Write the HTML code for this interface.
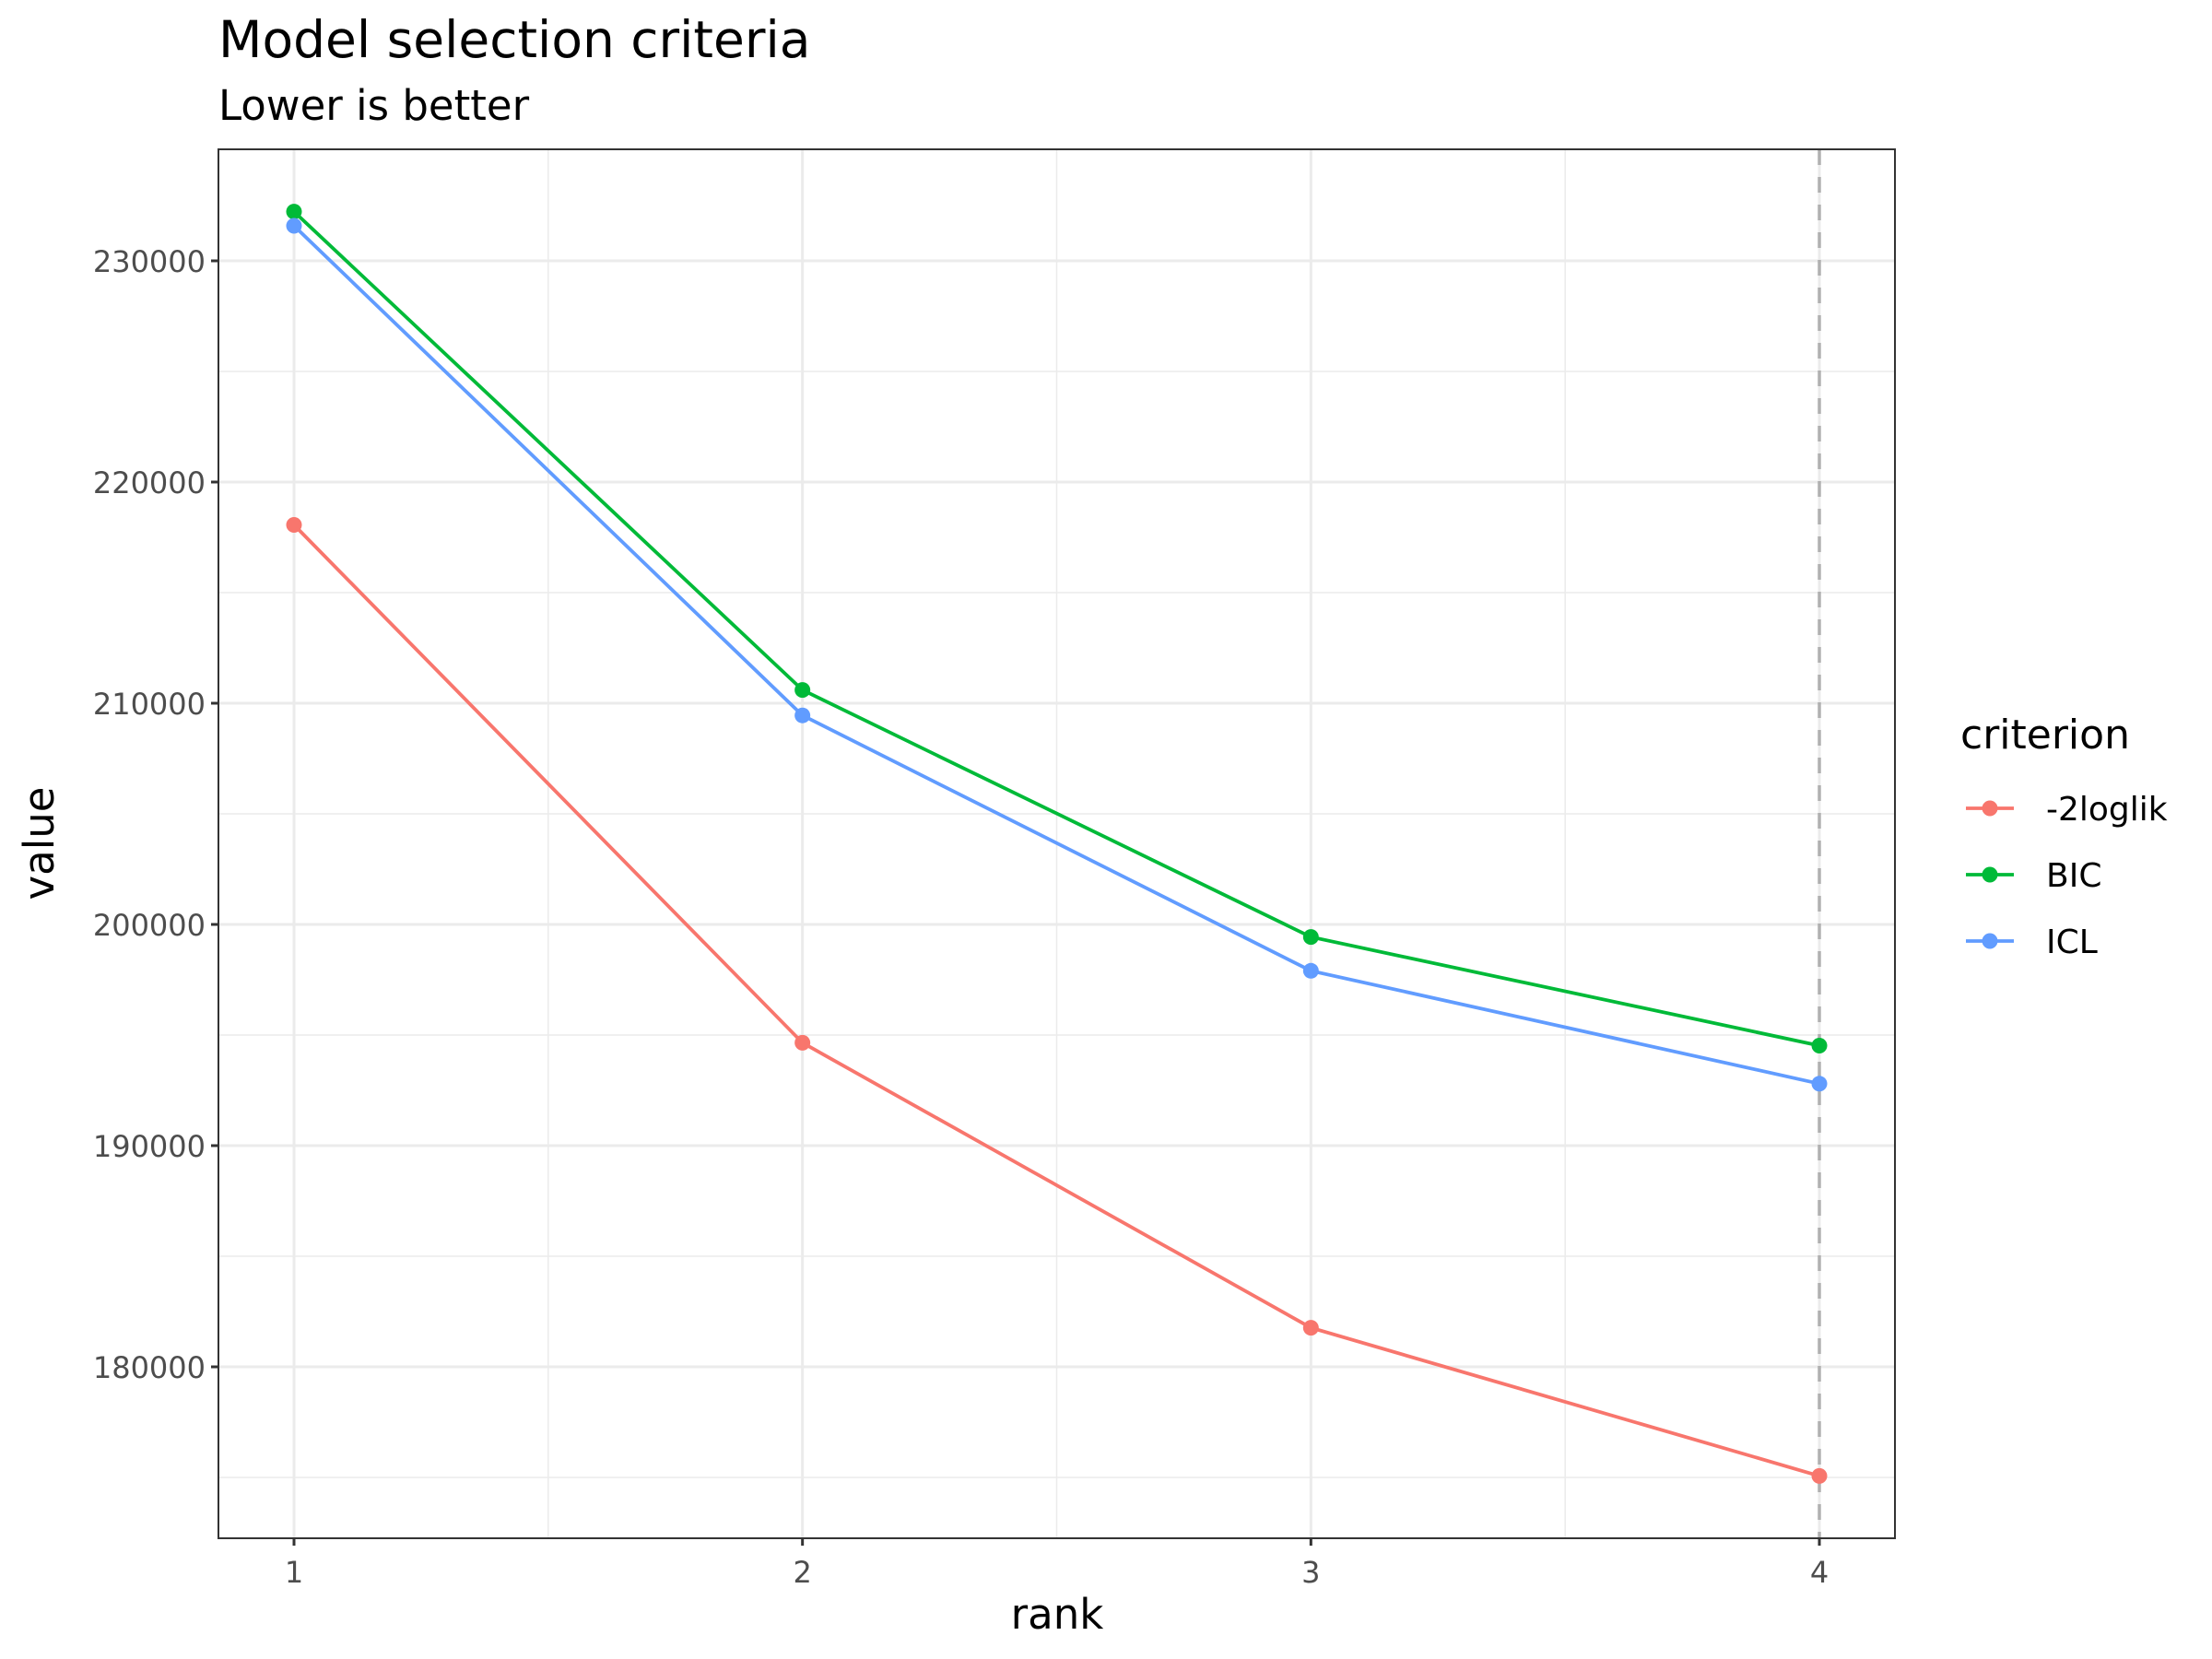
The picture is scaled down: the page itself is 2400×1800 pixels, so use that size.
<!DOCTYPE html>
<html><head><meta charset="utf-8"><style>
html,body{margin:0;padding:0;background:#fff;}
svg{display:block;font-family:"DejaVu Sans","Liberation Sans",sans-serif;}
</style></head><body>
<svg id="chart" width="2400" height="1800" viewBox="0 0 2400 1800">
<text x="237" y="62" font-size="55" fill="#000">Model selection criteria</text>
<text x="237" y="130" font-size="45" fill="#000">Lower is better</text>
<g id="grid"></g>
<g id="marks"></g>
<rect x="237" y="162" width="1819" height="1507" fill="none" stroke="#333" stroke-width="2"/>
<g id="axes"></g>
<text x="1147" y="1767" font-size="45" text-anchor="middle" fill="#000">rank</text>
<text transform="translate(58,915) rotate(-90)" font-size="45" text-anchor="middle" fill="#000">value</text>
<text x="2127" y="812" font-size="44" fill="#000">criterion</text>
<g id="legend"></g>
</svg>
<script>
const ranks = [1, 2, 3, 4];
const seriesNames = ["-2loglik", "BIC", "ICL"];
const loglikValues = [218063, 194650, 181767, 175067];
const bicValues = [232225, 210600, 199433, 194521];
const iclValues = [231583, 209450, 197904, 192800];
const yTicks = [180000, 190000, 200000, 210000, 220000, 230000];
const yMinor = [175000, 185000, 195000, 205000, 215000, 225000];
const xMinor = [1.5, 2.5, 3.5];
const bestRank = 4;

const colors = ["#F8766D", "#00BA38", "#619CFF"];
const NS = "http://www.w3.org/2000/svg";
const L = 237, R = 2056, T = 162, B = 1669;
function xs(r){ return 319 + (r - 1) * (1974 - 319) / 3; }
function ys(v){ return 283 + (230000 - v) * 0.024; }
function mk(tag, attrs, parent){
  const e = document.createElementNS(NS, tag);
  for (const k in attrs) e.setAttribute(k, attrs[k]);
  parent.appendChild(e); return e;
}
const grid = document.getElementById("grid");
yMinor.forEach(v => {
  const l = mk("line", {x1:L, x2:R, y1:ys(v), y2:ys(v), stroke:"#ebebeb", "stroke-width":1.5}, grid);
  
  
});
xMinor.forEach(r => {
  const l = mk("line", {x1:xs(r), x2:xs(r), y1:T, y2:B, stroke:"#ebebeb", "stroke-width":1.5}, grid);
  
  
});
yTicks.forEach(v => {
  const l = mk("line", {x1:L, x2:R, y1:ys(v), y2:ys(v), stroke:"#ebebeb", "stroke-width":3}, grid);
  
  
});
ranks.forEach(r => {
  const l = mk("line", {x1:xs(r), x2:xs(r), y1:T, y2:B, stroke:"#ebebeb", "stroke-width":3}, grid);
  
  
});
const marks = document.getElementById("marks");
const vline = mk("line", {x1:xs(bestRank), x2:xs(bestRank), y1:T, y2:B, stroke:"#b0b0b0", "stroke-width":3.5, "stroke-dasharray":"17 13"}, marks);


[loglikValues, bicValues, iclValues].forEach((vals, i) => {
  const pts = vals.map((v, j) => xs(ranks[j]) + "," + ys(v)).join(" ");
  const pl = mk("polyline", {points:pts, fill:"none", stroke:colors[i], "stroke-width":3.8}, marks);
  
  
  vals.forEach((v, j) => {
    const c = mk("circle", {cx:xs(ranks[j]), cy:ys(v), r:8.5, fill:colors[i]}, marks);
    
    
  });
});
const axes = document.getElementById("axes");
yTicks.forEach(v => {
  const t = mk("line", {x1:L-8, x2:L, y1:ys(v), y2:ys(v), stroke:"#333", "stroke-width":3}, axes);
  
  
  const tx = mk("text", {x:L-14, y:ys(v)+12, "font-size":32, fill:"#4d4d4d", "text-anchor":"end"}, axes);
  tx.textContent = String(v);
  
  
});
ranks.forEach(r => {
  const t = mk("line", {x1:xs(r), x2:xs(r), y1:B, y2:B+8, stroke:"#333", "stroke-width":3}, axes);
  
  
  const tx = mk("text", {x:xs(r), y:1717, "font-size":32, fill:"#4d4d4d", "text-anchor":"middle"}, axes);
  tx.textContent = String(r);
  
  
});
const legend = document.getElementById("legend");
seriesNames.forEach((n, i) => {
  const y = 877 + i * 72;
  const g = mk("g", {}, legend);
  
  
  mk("line", {x1:2133, x2:2185, y1:y, y2:y, stroke:colors[i], "stroke-width":3.8}, g);
  mk("circle", {cx:2159, cy:y, r:8.5, fill:colors[i]}, g);
  const tx = mk("text", {x:2220, y:y+13, "font-size":36, fill:"#000"}, g);
  tx.textContent = n;
});
</script>
</body></html>
